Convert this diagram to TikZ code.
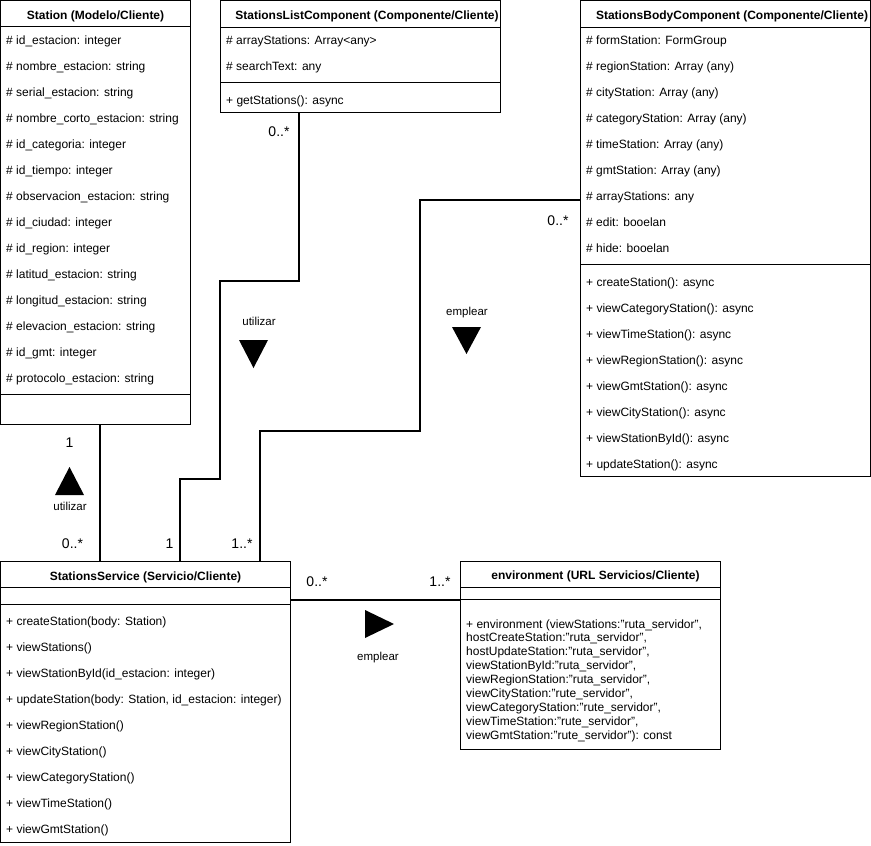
\documentclass[tikz,border=0pt]{standalone}
\usepackage{fontspec}
\setmainfont{Liberation Sans}
\begin{document}
\begin{tikzpicture}[x=1pt,y=-1pt,
  classbox/.style={draw,line width=1pt,anchor=north west,inner sep=0pt,outer sep=0pt},
  member/.style={anchor=base west,inner sep=0pt,font=\fontsize{12}{14}\selectfont},
  title/.style={anchor=base,inner sep=0pt,font=\fontsize{12}{14}\selectfont\bfseries},
  mult/.style={anchor=base,inner sep=0pt,font=\fontsize{14}{16}\selectfont},
  assoc/.style={anchor=base,inner sep=0pt,font=\fontsize{11.5}{14}\selectfont},
  conn/.style={line width=2.6pt},
  sep/.style={line width=1pt},
  dirmark/.style={fill=black}]

\useasboundingbox (0,0) rectangle (871,846);

% ---------- class boxes ----------
\node[classbox,minimum width=190pt,minimum height=424pt] (station) at (0,0) {};
\node[classbox,minimum width=280pt,minimum height=112pt] (list) at (220,0) {};
\node[classbox,minimum width=290pt,minimum height=476pt] (body) at (580,0) {};
\node[classbox,minimum width=290pt,minimum height=281pt] (service) at (0,561) {};
\node[classbox,minimum width=260pt,minimum height=188pt] (env) at (460,561) {};

% ---------- compartment separators ----------
\draw[sep] ([yshift=-26pt]station.north west) -- ([yshift=-26pt]station.north east);
\draw[sep] ([yshift=-394pt]station.north west) -- ([yshift=-394pt]station.north east);
\draw[sep] ([yshift=-27pt]list.north west) -- ([yshift=-27pt]list.north east);
\draw[sep] ([yshift=-82pt]list.north west) -- ([yshift=-82pt]list.north east);
\draw[sep] ([yshift=-27pt]body.north west) -- ([yshift=-27pt]body.north east);
\draw[sep] ([yshift=-264pt]body.north west) -- ([yshift=-264pt]body.north east);
\draw[sep] ([yshift=-26pt]service.north west) -- ([yshift=-26pt]service.north east);
\draw[sep] ([yshift=-43pt]service.north west) -- ([yshift=-43pt]service.north east);
\draw[sep] ([yshift=-26pt]env.north west) -- ([yshift=-26pt]env.north east);
\draw[sep] ([yshift=-38pt]env.north west) -- ([yshift=-38pt]env.north east);

% ---------- titles ----------
\node[title] (tstation) at (95.5,19) {Station (Modelo/Cliente)};
\node[title] (tlist) at (367,19) {StationsListComponent (Componente/Cliente)};
\node[title] (tbody) at (732,19) {StationsBodyComponent (Componente/Cliente)};
\node[title] (tservice) at (145.5,580) {StationsService (Servicio/Cliente)};
\node[title] (tenv) at (595.5,579) {environment (URL Servicios/Cliente)};

% ---------- Station attributes ----------
\foreach \t [count=\i from 0] in {
  {\# id\_estacion: integer},
  {\# nombre\_estacion: string},
  {\# serial\_estacion: string},
  {\# nombre\_corto\_estacion: string},
  {\# id\_categoria: integer},
  {\# id\_tiempo: integer},
  {\# observacion\_estacion: string},
  {\# id\_ciudad: integer},
  {\# id\_region: integer},
  {\# latitud\_estacion: string},
  {\# longitud\_estacion: string},
  {\# elevacion\_estacion: string},
  {\# id\_gmt: integer},
  {\# protocolo\_estacion: string}}
  \node[member] (sa\i) at (6,44.5+26*\i) {\t};

% ---------- StationsListComponent ----------
\node[member] (la0) at (226,44.5) {\# arrayStations: Array<any>};
\node[member] (la1) at (226,70.5) {\# searchText: any};
\node[member] (lm0) at (226,104.5) {+ getStations(): async};

% ---------- StationsBodyComponent ----------
\foreach \t [count=\i from 0] in {
  {\# formStation: FormGroup},
  {\# regionStation: Array (any)},
  {\# cityStation: Array (any)},
  {\# categoryStation: Array (any)},
  {\# timeStation: Array (any)},
  {\# gmtStation: Array (any)},
  {\# arrayStations: any},
  {\# edit: booelan},
  {\# hide: booelan}}
  \node[member] (ba\i) at (586,44.5+26*\i) {\t};
\foreach \t [count=\i from 0] in {
  {+ createStation(): async},
  {+ viewCategoryStation(): async},
  {+ viewTimeStation(): async},
  {+ viewRegionStation(): async},
  {+ viewGmtStation(): async},
  {+ viewCityStation(): async},
  {+ viewStationById(): async},
  {+ updateStation(): async}}
  \node[member] (bm\i) at (586,286.5+26*\i) {\t};

% ---------- StationsService ----------
\foreach \t [count=\i from 0] in {
  {+ createStation(body: Station)},
  {+ viewStations()},
  {+ viewStationById(id\_estacion: integer)},
  {+ updateStation(body: Station, id\_estacion: integer)},
  {+ viewRegionStation()},
  {+ viewCityStation()},
  {+ viewCategoryStation()},
  {+ viewTimeStation()},
  {+ viewGmtStation()}}
  \node[member] (sm\i) at (6,625.5+26*\i) {\t};

% ---------- environment ----------
\foreach \t [count=\i from 0] in {
  {+ environment (viewStations:"ruta\_servidor",},
  {hostCreateStation:"ruta\_servidor",},
  {hostUpdateStation:"ruta\_servidor",},
  {viewStationById:"ruta\_servidor",},
  {viewRegionStation:"ruta\_servidor",},
  {viewCityStation:"rute\_servidor",},
  {viewCategoryStation:"rute\_servidor",},
  {viewTimeStation:"rute\_servidor",},
  {viewGmtStation:"rute\_servidor"): const}}
  \node[member] (em\i) at (466,628+13.9*\i) {\t};

% ---------- connector bend points ----------
\coordinate (k1) at (100,0);
\coordinate (l1) at (299,281);
\coordinate (l2) at (220,281);
\coordinate (l3) at (220,479);
\coordinate (l4) at (180,479);
\coordinate (b1) at (420,200);
\coordinate (b2) at (420,431);
\coordinate (b3) at (260,431);
\coordinate (e1) at (0,600);

% ---------- associations ----------
\draw[conn] (station.south -| k1) -- (service.north -| k1);
\draw[conn] (list.south -| l1) -- (l1) -- (l2) -- (l3) -- (l4) -- (service.north -| l4);
\draw[conn] (body.west |- b1) -- (b1) -- (b2) -- (b3) -- (service.north -| b3);
\draw[conn] (service.east |- e1) -- (env.west |- e1);

% ---------- direction marks ----------
\fill[dirmark] (69.5,467) -- (84,495) -- (55,495) -- cycle;
\fill[dirmark] (239,340) -- (268,340) -- (253.5,368) -- cycle;
\fill[dirmark] (452,327) -- (481,327) -- (466.5,354) -- cycle;
\fill[dirmark] (365,610) -- (394,624) -- (365,638) -- cycle;

% ---------- association labels ----------
\node[assoc] (u1) at (70,510) {utilizar};
\node[assoc] (u2) at (259,325) {utilizar};
\node[assoc] (e2) at (467,315) {emplear};
\node[assoc] (e3) at (378,660) {emplear};

% ---------- multiplicities ----------
\node[mult] (m1) at (69.5,447) {1};
\node[mult] (m2) at (72.5,548) {0..*};
\node[mult] (m3) at (169.5,548) {1};
\node[mult] (m4) at (242,548) {1..*};
\node[mult] (m5) at (279,136) {0..*};
\node[mult] (m6) at (558,225) {0..*};
\node[mult] (m7) at (317,586) {0..*};
\node[mult] (m8) at (440,586) {1..*};
\end{tikzpicture}
\end{document}
